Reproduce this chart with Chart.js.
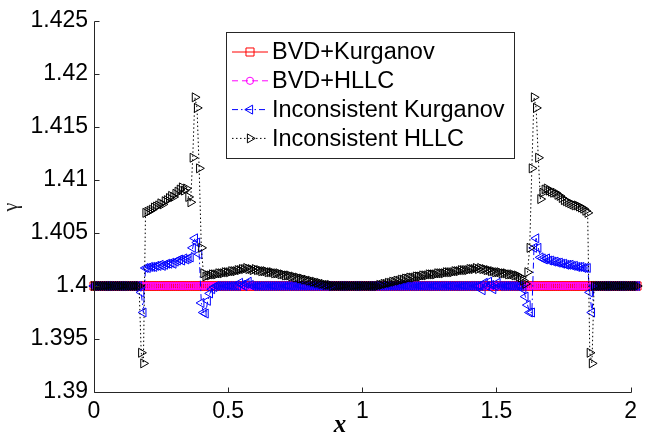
<!DOCTYPE html>
<html>
<head>
<meta charset="utf-8">
<script src="https://cdn.jsdelivr.net/npm/chart.js@4.4.1/dist/chart.umd.min.js"></script>
<style>
  html, body { margin: 0; padding: 0; background: #fff; }
  #wrap { width: 648px; height: 438px; }
</style>
</head>
<body>
<div id="wrap"><canvas id="gamma-chart" width="648" height="438"></canvas></div>
<script>
// sample positions (the data runs a little past x = 2)
const xs = [
  0, 0.008, 0.016, 0.024, 0.032, 0.04, 0.048, 0.056, 0.064, 0.072, 0.08, 0.088, 0.096, 0.104, 0.112, 0.12, 0.128, 0.136, 0.144, 0.152, 0.16, 0.168, 0.176, 0.184, 0.192,
  0.2, 0.208, 0.216, 0.224, 0.232, 0.24, 0.248, 0.256, 0.264, 0.272, 0.28, 0.288, 0.296, 0.304, 0.312, 0.32, 0.328, 0.336, 0.344, 0.352, 0.36, 0.368, 0.376, 0.384, 0.392,
  0.4, 0.408, 0.416, 0.424, 0.432, 0.44, 0.448, 0.456, 0.464, 0.472, 0.48, 0.488, 0.496, 0.504, 0.512, 0.52, 0.528, 0.536, 0.544, 0.552, 0.56, 0.568, 0.576, 0.584, 0.592,
  0.6, 0.608, 0.616, 0.624, 0.632, 0.64, 0.648, 0.656, 0.664, 0.672, 0.68, 0.688, 0.696, 0.704, 0.712, 0.72, 0.728, 0.736, 0.744, 0.752, 0.76, 0.768, 0.776, 0.784, 0.792,
  0.8, 0.808, 0.816, 0.824, 0.832, 0.84, 0.848, 0.856, 0.864, 0.872, 0.88, 0.888, 0.896, 0.904, 0.912, 0.92, 0.928, 0.936, 0.944, 0.952, 0.96, 0.968, 0.976, 0.984, 0.992,
  1, 1.008, 1.016, 1.024, 1.032, 1.04, 1.048, 1.056, 1.064, 1.072, 1.08, 1.088, 1.096, 1.104, 1.112, 1.12, 1.128, 1.136, 1.144, 1.152, 1.16, 1.168, 1.176, 1.184, 1.192,
  1.2, 1.208, 1.216, 1.224, 1.232, 1.24, 1.248, 1.256, 1.264, 1.272, 1.28, 1.288, 1.296, 1.304, 1.312, 1.32, 1.328, 1.336, 1.344, 1.352, 1.36, 1.368, 1.376, 1.384, 1.392,
  1.4, 1.408, 1.416, 1.424, 1.432, 1.44, 1.448, 1.456, 1.464, 1.472, 1.48, 1.488, 1.496, 1.504, 1.512, 1.52, 1.528, 1.536, 1.544, 1.552, 1.56, 1.568, 1.576, 1.584, 1.592,
  1.6, 1.608, 1.616, 1.624, 1.632, 1.64, 1.648, 1.656, 1.664, 1.672, 1.68, 1.688, 1.696, 1.704, 1.712, 1.72, 1.728, 1.736, 1.744, 1.752, 1.76, 1.768, 1.776, 1.784, 1.792,
  1.8, 1.808, 1.816, 1.824, 1.832, 1.84, 1.848, 1.856, 1.864, 1.872, 1.88, 1.888, 1.896, 1.904, 1.912, 1.92, 1.928, 1.936, 1.944, 1.952, 1.96, 1.968, 1.976, 1.984, 1.992,
  2, 2.008, 2.016, 2.024
]

const bvdKurganov = [
  1.4, 1.4, 1.4, 1.4, 1.4, 1.4, 1.4, 1.4, 1.4, 1.4, 1.4, 1.4, 1.4, 1.4, 1.4, 1.4, 1.4, 1.4, 1.4, 1.4, 1.4, 1.4, 1.4, 1.4, 1.4,
  1.4, 1.4, 1.4, 1.4, 1.4, 1.4, 1.4, 1.4, 1.4, 1.4, 1.4, 1.4, 1.4, 1.4, 1.4, 1.4, 1.4, 1.4, 1.4, 1.4, 1.4, 1.4, 1.4, 1.4, 1.4,
  1.4, 1.4, 1.4, 1.4, 1.4, 1.4, 1.4, 1.4, 1.4, 1.4, 1.4, 1.4, 1.4, 1.4, 1.4, 1.4, 1.4, 1.4, 1.4, 1.4, 1.4, 1.4, 1.4, 1.4, 1.4,
  1.4, 1.4, 1.4, 1.4, 1.4, 1.4, 1.4, 1.4, 1.4, 1.4, 1.4, 1.4, 1.4, 1.4, 1.4, 1.4, 1.4, 1.4, 1.4, 1.4, 1.4, 1.4, 1.4, 1.4, 1.4,
  1.4, 1.4, 1.4, 1.4, 1.4, 1.4, 1.4, 1.4, 1.4, 1.4, 1.4, 1.4, 1.4, 1.4, 1.4, 1.4, 1.4, 1.4, 1.4, 1.4, 1.4, 1.4, 1.4, 1.4, 1.4,
  1.4, 1.4, 1.4, 1.4, 1.4, 1.4, 1.4, 1.4, 1.4, 1.4, 1.4, 1.4, 1.4, 1.4, 1.4, 1.4, 1.4, 1.4, 1.4, 1.4, 1.4, 1.4, 1.4, 1.4, 1.4,
  1.4, 1.4, 1.4, 1.4, 1.4, 1.4, 1.4, 1.4, 1.4, 1.4, 1.4, 1.4, 1.4, 1.4, 1.4, 1.4, 1.4, 1.4, 1.4, 1.4, 1.4, 1.4, 1.4, 1.4, 1.4,
  1.4, 1.4, 1.4, 1.4, 1.4, 1.4, 1.4, 1.4, 1.4, 1.4, 1.4, 1.4, 1.4, 1.4, 1.4, 1.4, 1.4, 1.4, 1.4, 1.4, 1.4, 1.4, 1.4, 1.4, 1.4,
  1.4, 1.4, 1.4, 1.4, 1.4, 1.4, 1.4, 1.4, 1.4, 1.4, 1.4, 1.4, 1.4, 1.4, 1.4, 1.4, 1.4, 1.4, 1.4, 1.4, 1.4, 1.4, 1.4, 1.4, 1.4,
  1.4, 1.4, 1.4, 1.4, 1.4, 1.4, 1.4, 1.4, 1.4, 1.4, 1.4, 1.4, 1.4, 1.4, 1.4, 1.4, 1.4, 1.4, 1.4, 1.4, 1.4, 1.4, 1.4, 1.4, 1.4,
  1.4, 1.4, 1.4, 1.4
]

const bvdHllc = [
  1.4, 1.4, 1.4, 1.4, 1.4, 1.4, 1.4, 1.4, 1.4, 1.4, 1.4, 1.4, 1.4, 1.4, 1.4, 1.4, 1.4, 1.4, 1.4, 1.4, 1.4, 1.4, 1.4, 1.4, 1.4,
  1.4, 1.4, 1.4, 1.4, 1.4, 1.4, 1.4, 1.4, 1.4, 1.4, 1.4, 1.4, 1.4, 1.4, 1.4, 1.4, 1.4, 1.4, 1.4, 1.4, 1.4, 1.4, 1.4, 1.4, 1.4,
  1.4, 1.4, 1.4, 1.4, 1.4, 1.4, 1.4, 1.4, 1.4, 1.4, 1.4, 1.4, 1.4, 1.4, 1.4, 1.4, 1.4, 1.4, 1.4, 1.4, 1.4, 1.4, 1.4, 1.4, 1.4,
  1.4, 1.4, 1.4, 1.4, 1.4, 1.4, 1.4, 1.4, 1.4, 1.4, 1.4, 1.4, 1.4, 1.4, 1.4, 1.4, 1.4, 1.4, 1.4, 1.4, 1.4, 1.4, 1.4, 1.4, 1.4,
  1.4, 1.4, 1.4, 1.4, 1.4, 1.4, 1.4, 1.4, 1.4, 1.4, 1.4, 1.4, 1.4, 1.4, 1.4, 1.4, 1.4, 1.4, 1.4, 1.4, 1.4, 1.4, 1.4, 1.4, 1.4,
  1.4, 1.4, 1.4, 1.4, 1.4, 1.4, 1.4, 1.4, 1.4, 1.4, 1.4, 1.4, 1.4, 1.4, 1.4, 1.4, 1.4, 1.4, 1.4, 1.4, 1.4, 1.4, 1.4, 1.4, 1.4,
  1.4, 1.4, 1.4, 1.4, 1.4, 1.4, 1.4, 1.4, 1.4, 1.4, 1.4, 1.4, 1.4, 1.4, 1.4, 1.4, 1.4, 1.4, 1.4, 1.4, 1.4, 1.4, 1.4, 1.4, 1.4,
  1.4, 1.4, 1.4, 1.4, 1.4, 1.4, 1.4, 1.4, 1.4, 1.4, 1.4, 1.4, 1.4, 1.4, 1.4, 1.4, 1.4, 1.4, 1.4, 1.4, 1.4, 1.4, 1.4, 1.4, 1.4,
  1.4, 1.4, 1.4, 1.4, 1.4, 1.4, 1.4, 1.4, 1.4, 1.4, 1.4, 1.4, 1.4, 1.4, 1.4, 1.4, 1.4, 1.4, 1.4, 1.4, 1.4, 1.4, 1.4, 1.4, 1.4,
  1.4, 1.4, 1.4, 1.4, 1.4, 1.4, 1.4, 1.4, 1.4, 1.4, 1.4, 1.4, 1.4, 1.4, 1.4, 1.4, 1.4, 1.4, 1.4, 1.4, 1.4, 1.4, 1.4, 1.4, 1.4,
  1.4, 1.4, 1.4, 1.4
]

const incKurganov = [
  1.4, 1.4, 1.4, 1.4, 1.4, 1.4, 1.4, 1.4, 1.4, 1.4,
  1.4, 1.4, 1.4, 1.4, 1.4, 1.4, 1.4, 1.4, 1.4, 1.4,
  1.4, 1.4, 1.3994, 1.3975, 1.4017, 1.4017, 1.4018, 1.4018, 1.4018, 1.4019,
  1.4019, 1.4020, 1.4019, 1.4020, 1.4021, 1.4021, 1.4022, 1.4021, 1.4023, 1.4024,
  1.4025, 1.4024, 1.4026, 1.4025, 1.4026, 1.4027, 1.4036, 1.4045, 1.4041, 1.4030,
  1.3984, 1.3975, 1.3974, 1.3986, 1.3993, 1.3997, 1.3999, 1.4, 1.4, 1.4,
  1.4, 1.4, 1.4, 1.4, 1.4, 1.4, 1.4, 1.4, 1.4003, 1.4001,
  1.4, 1.4002, 1.4004, 1.4001, 1.4, 1.4, 1.4, 1.4, 1.4, 1.4,
  1.4, 1.4, 1.4, 1.4, 1.4, 1.4, 1.4, 1.4, 1.4, 1.4,
  1.4, 1.4, 1.4, 1.4, 1.4, 1.4, 1.4, 1.4, 1.4, 1.4,
  1.4, 1.4, 1.4, 1.4, 1.4, 1.4, 1.4, 1.4, 1.4, 1.4,
  1.4, 1.4, 1.4, 1.4, 1.4, 1.4, 1.4, 1.4, 1.4, 1.4,
  1.4, 1.4, 1.4, 1.4, 1.4, 1.4, 1.4, 1.4, 1.4, 1.4,
  1.4, 1.4, 1.4, 1.4, 1.4, 1.4, 1.4, 1.4, 1.4, 1.4,
  1.4, 1.4, 1.4, 1.4, 1.4, 1.4, 1.4, 1.4, 1.4, 1.4,
  1.4, 1.4, 1.4, 1.4, 1.4, 1.4, 1.4, 1.4, 1.4, 1.4,
  1.4, 1.4, 1.4, 1.4, 1.4, 1.4, 1.4, 1.4, 1.4, 1.4,
  1.4, 1.4, 1.4, 1.4, 1.4, 1.4, 1.4, 1.4, 1.4, 1.4,
  1.4, 1.3996, 1.4003, 1.4, 1.4004, 1.4001, 1.3997, 1.4, 1.4003, 1.4,
  1.4, 1.4, 1.4, 1.4, 1.4, 1.4, 1.4, 1.4, 1.4, 1.4,
  1.3997, 1.3990, 1.3982, 1.3975, 1.3975, 1.4036, 1.4045, 1.4036, 1.4027, 1.4026,
  1.4025, 1.4026, 1.4024, 1.4024, 1.4023, 1.4023, 1.4022, 1.4022, 1.4021, 1.4021,
  1.4020, 1.4020, 1.4020, 1.4019, 1.4019, 1.4018, 1.4018, 1.4018, 1.4017, 1.4017,
  1.4017, 1.3994, 1.3975, 1.4, 1.4, 1.4, 1.4, 1.4, 1.4, 1.4,
  1.4, 1.4, 1.4, 1.4, 1.4, 1.4, 1.4, 1.4, 1.4, 1.4,
  1.4, 1.4, 1.4, 1.4
]

const incHllc = [
  1.4, 1.4, 1.4, 1.4, 1.4, 1.4, 1.4, 1.4, 1.4, 1.4,
  1.4, 1.4, 1.4, 1.4, 1.4, 1.4, 1.4, 1.4, 1.4, 1.4,
  1.4, 1.4, 1.3937, 1.3927, 1.4069, 1.4070, 1.4071, 1.4072, 1.4074, 1.4075,
  1.4076, 1.4078, 1.4077, 1.4080, 1.4081, 1.4083, 1.4085, 1.4084, 1.4087, 1.4089,
  1.4091, 1.4093, 1.4090, 1.4092, 1.4084, 1.4079, 1.4121, 1.4178, 1.4168, 1.4111,
  1.4036, 1.4012, 1.4009, 1.4010, 1.4010, 1.4011, 1.4011, 1.4011, 1.4012, 1.4012,
  1.4012, 1.4013, 1.4013, 1.4013, 1.4014, 1.4014, 1.4014, 1.4015, 1.4015, 1.4016,
  1.4016, 1.4017, 1.4016, 1.4016, 1.4015, 1.4016, 1.4015, 1.4015, 1.4014, 1.4014,
  1.4014, 1.4013, 1.4013, 1.4013, 1.4012, 1.4012, 1.4012, 1.4011, 1.4011, 1.4010,
  1.4010, 1.4010, 1.4009, 1.4009, 1.4008, 1.4008, 1.4007, 1.4007, 1.4006, 1.4006,
  1.4005, 1.4005, 1.4004, 1.4004, 1.4003, 1.4003, 1.4002, 1.4002, 1.4001, 1.4001,
  1.4001, 1.4, 1.4, 1.4, 1.4, 1.4, 1.4, 1.4, 1.4, 1.4,
  1.4, 1.4, 1.4, 1.4, 1.4, 1.4, 1.4, 1.4, 1.4, 1.4,
  1.4, 1.4, 1.4, 1.4001, 1.4001, 1.4002, 1.4002, 1.4003, 1.4003, 1.4004,
  1.4004, 1.4005, 1.4005, 1.4006, 1.4006, 1.4007, 1.4007, 1.4008, 1.4008, 1.4008,
  1.4009, 1.4009, 1.4009, 1.4010, 1.4010, 1.4010, 1.4011, 1.4011, 1.4011, 1.4011,
  1.4012, 1.4012, 1.4012, 1.4012, 1.4013, 1.4013, 1.4013, 1.4013, 1.4014, 1.4014,
  1.4014, 1.4015, 1.4015, 1.4015, 1.4015, 1.4016, 1.4016, 1.4016, 1.4017, 1.4016,
  1.4017, 1.4016, 1.4016, 1.4015, 1.4015, 1.4014, 1.4014, 1.4013, 1.4013, 1.4013,
  1.4012, 1.4012, 1.4012, 1.4011, 1.4011, 1.4011, 1.4010, 1.4010, 1.4009, 1.4008,
  1.4005, 1.4002, 1.4013, 1.4036, 1.4111, 1.4178, 1.4168, 1.4121, 1.4082, 1.4088,
  1.4091, 1.4092, 1.4090, 1.4089, 1.4088, 1.4088, 1.4086, 1.4085, 1.4083, 1.4081,
  1.4080, 1.4079, 1.4078, 1.4077, 1.4076, 1.4076, 1.4075, 1.4074, 1.4073, 1.4071,
  1.4069, 1.3937, 1.3927, 1.4, 1.4, 1.4, 1.4, 1.4, 1.4, 1.4,
  1.4, 1.4, 1.4, 1.4, 1.4, 1.4, 1.4, 1.4, 1.4, 1.4,
  1.4, 1.4, 1.4, 1.4
]

const seriesLabels = ['BVD+Kurganov', 'BVD+HLLC', 'Inconsistent Kurganov', 'Inconsistent HLLC']
const xTicks = [0, 0.5, 1, 1.5, 2]
const xTickLabels = ['0', '0.5', '1', '1.5', '2']
const yTicks = [1.39, 1.395, 1.4, 1.405, 1.41, 1.415, 1.42, 1.425]
const yTickLabels = ['1.39', '1.395', '1.4', '1.405', '1.41', '1.415', '1.42', '1.425']

const SANS = '"Liberation Sans", Arial, sans-serif'
const SERIF = '"Liberation Serif", "Times New Roman", serif'
const AXIS_COLOR = '#262626'

// matlab-ish line specs: '-s', '--o', '-.<', ':>'
const styles = [
  { color: '#ff0000', dash: [], pointStyle: 'rect', radius: 5.7, rotation: 0 },
  { color: '#ff00ff', dash: [6, 4], pointStyle: 'circle', radius: 3.6, rotation: 0 },
  { color: '#0000ff', dash: [6, 3, 1.5, 3], pointStyle: 'triangle', radius: 5.2, rotation: 270 },
  { color: '#000000', dash: [1.5, 2.5], pointStyle: 'triangle', radius: 5.2, rotation: 90 }
]

function toPoints (ys) {
  return xs.map((x, i) => ({ x, y: ys[i] }))
}

function drawMarker (ctx, style, cx, cy) {
  const r = style.radius
  ctx.beginPath()
  if (style.pointStyle === 'rect') {
    const h = r * Math.SQRT1_2
    ctx.rect(cx - h, cy - h, 2 * h, 2 * h)
  }
  else if (style.pointStyle === 'circle') {
    ctx.arc(cx, cy, r, 0, Math.PI * 2)
  }
  else {
    let a = style.rotation * Math.PI / 180
    ctx.moveTo(cx + Math.sin(a) * r, cy - Math.cos(a) * r)
    a += Math.PI * 2 / 3
    ctx.lineTo(cx + Math.sin(a) * r, cy - Math.cos(a) * r)
    a += Math.PI * 2 / 3
    ctx.lineTo(cx + Math.sin(a) * r, cy - Math.cos(a) * r)
    ctx.closePath()
  }
  ctx.stroke()
}

const datasets = [bvdKurganov, bvdHllc, incKurganov, incHllc].map((ys, k) => ({
  label: seriesLabels[k],
  data: toPoints(ys),
  borderColor: styles[k].color,
  borderWidth: 1,
  borderDash: styles[k].dash,
  pointStyle: styles[k].pointStyle,
  pointRadius: styles[k].radius,
  pointRotation: styles[k].rotation,
  pointBorderColor: styles[k].color,
  pointBackgroundColor: 'rgba(0,0,0,0)',
  pointBorderWidth: 1,
  tension: 0,
  clip: false,
  order: 4 - k // later series on top, like matlab
}))

// axes lines, inward ticks, axis titles and the boxed legend
const decor = {
  id: 'decor',
  afterDraw (chart) {
    const { ctx, scales: { x, y } } = chart
    ctx.save()
    ctx.setLineDash([])
    ctx.lineWidth = 1
    ctx.strokeStyle = AXIS_COLOR
    const x0 = Math.round(x.getPixelForValue(0)) + 0.5
    const x2 = Math.round(x.getPixelForValue(2)) + 0.5
    const yb = Math.round(y.getPixelForValue(1.39)) + 0.5
    const yt = Math.round(y.getPixelForValue(1.425)) + 0.5
    ctx.beginPath()
    ctx.moveTo(x0, yt)
    ctx.lineTo(x0, yb)
    ctx.lineTo(x2, yb)
    xTicks.forEach(v => {
      const px = Math.round(x.getPixelForValue(v)) + 0.5
      ctx.moveTo(px, yb)
      ctx.lineTo(px, yb - 5)
    })
    yTicks.forEach(v => {
      const py = Math.round(y.getPixelForValue(v)) + 0.5
      ctx.moveTo(x0, py)
      ctx.lineTo(x0 + 5, py)
    })
    ctx.stroke()

    // axis titles
    ctx.fillStyle = '#000'
    ctx.font = 'italic bold 25px ' + SERIF
    ctx.textAlign = 'center'
    ctx.textBaseline = 'middle'
    ctx.fillText('x', 340, 426)
    ctx.save()
    ctx.translate(12, 207)
    ctx.rotate(-Math.PI / 2)
    ctx.font = '20px ' + SERIF
    ctx.fillStyle = '#222'
    ctx.fillText('γ', 0, 0)
    ctx.restore()

    // legend
    const box = { left: 226.5, top: 32.5, width: 288, height: 126 }
    ctx.fillStyle = '#fff'
    ctx.fillRect(box.left, box.top, box.width, box.height)
    ctx.strokeStyle = AXIS_COLOR
    ctx.strokeRect(box.left, box.top, box.width, box.height)
    ctx.font = '23.5px ' + SANS
    ctx.textAlign = 'left'
    seriesLabels.forEach((label, k) => {
      const s = styles[k]
      const cy = 52 + k * 28.8
      ctx.strokeStyle = s.color
      ctx.setLineDash(s.dash)
      ctx.beginPath()
      ctx.moveTo(232, cy)
      ctx.lineTo(268, cy)
      ctx.stroke()
      ctx.setLineDash([])
      drawMarker(ctx, s, 250, cy)
      ctx.fillStyle = '#000'
      ctx.fillText(label, 272, cy + 1)
    })
    ctx.restore()
  }
}

const chart = new Chart(document.getElementById('gamma-chart'), {
  type: 'line',
  data: { datasets },
  options: {
    responsive: false,
    animation: false,
    devicePixelRatio: 1,
    events: [],
    layout: { padding: { left: 0, top: 21, right: 5.24, bottom: 0 } },
    plugins: { legend: { display: false }, tooltip: { enabled: false } },
    scales: {
      x: {
        type: 'linear',
        min: 0,
        max: 2.04,
        afterBuildTicks: scale => { scale.ticks = xTicks.map(v => ({ value: v })) },
        afterFit: scale => { scale.height = 46 },
        grid: { display: false, drawTicks: false },
        border: { display: false },
        ticks: {
          autoSkip: false,
          maxRotation: 0,
          padding: 6,
          color: '#000',
          font: { family: SANS, size: 23 },
          callback: (v, i) => xTickLabels[i]
        }
      },
      y: {
        type: 'linear',
        min: 1.39,
        max: 1.425,
        afterBuildTicks: scale => { scale.ticks = yTicks.map(v => ({ value: v })) },
        afterFit: scale => { scale.width = 94 },
        grid: { display: false, drawTicks: false },
        border: { display: false },
        ticks: {
          autoSkip: false,
          padding: 6,
          color: '#000',
          font: { family: SANS, size: 23 },
          callback: (v, i) => yTickLabels[i]
        }
      }
    }
  },
  plugins: [decor]
})
</script>
</body>
</html>
